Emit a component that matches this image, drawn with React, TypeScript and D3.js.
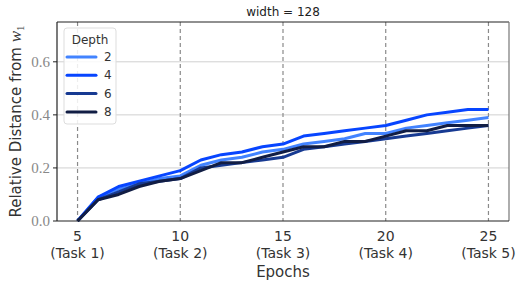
import * as d3 from "d3";

const WIDTH = 517;
const HEIGHT = 283;
const MARGIN = { top: 22, right: 8, bottom: 62, left: 57 };

const epochs = d3.range(5, 26);
const taskTicks = [5, 10, 15, 20, 25];
const taskLabels = ["(Task 1)", "(Task 2)", "(Task 3)", "(Task 4)", "(Task 5)"];
const yTicks = [0, 0.2, 0.4, 0.6];

const depths = ["2", "4", "6", "8"];
const colors = ["#4283ff", "#0745ff", "#173a92", "#111d44"];

const depth2 = [0, 0.09, 0.12, 0.14, 0.16, 0.17, 0.21, 0.23, 0.24, 0.26, 0.27, 0.29, 0.3, 0.31, 0.33, 0.33, 0.35, 0.36, 0.37, 0.38, 0.39];
const depth4 = [0, 0.09, 0.13, 0.15, 0.17, 0.19, 0.23, 0.25, 0.26, 0.28, 0.29, 0.32, 0.33, 0.34, 0.35, 0.36, 0.38, 0.4, 0.41, 0.42, 0.42];
const depth6 = [0, 0.08, 0.11, 0.14, 0.15, 0.16, 0.2, 0.21, 0.22, 0.23, 0.24, 0.27, 0.28, 0.29, 0.3, 0.31, 0.32, 0.33, 0.34, 0.35, 0.36];
const depth8 = [0, 0.08, 0.1, 0.13, 0.15, 0.16, 0.19, 0.22, 0.22, 0.24, 0.26, 0.28, 0.28, 0.3, 0.3, 0.32, 0.34, 0.34, 0.36, 0.36, 0.36];

const series = [depth2, depth4, depth6, depth8];

const SANS = "DejaVu Sans, sans-serif";
const SERIF = "Liberation Serif, serif";

export default function App() {
  const boundsWidth = WIDTH - MARGIN.left - MARGIN.right;
  const boundsHeight = HEIGHT - MARGIN.top - MARGIN.bottom;

  const xScale = d3.scaleLinear().domain([4, 26]).range([0, boundsWidth]);
  const yScale = d3.scaleLinear().domain([0, 0.75]).range([boundsHeight, 0]);

  const line = d3
    .line<number>()
    .x((_, i) => xScale(epochs[i]))
    .y((d) => yScale(d));

  return (
    <div style={{ position: "absolute", left: 0, top: 0 }}>
      <svg width={WIDTH} height={HEIGHT} style={{ display: "block" }}>
        <text
          x={MARGIN.left + boundsWidth / 2}
          y={16}
          textAnchor="middle"
          fontSize={12}
          fontFamily={SANS}
          fill="#222"
        >
          width = 128
        </text>
        <g transform={`translate(${MARGIN.left},${MARGIN.top})`}>
          {/* horizontal grid */}
          {yTicks.slice(1).map((t) => (
            <line
              key={"h" + t}
              x1={0}
              x2={boundsWidth}
              y1={yScale(t)}
              y2={yScale(t)}
              stroke="#d0d0d0"
              strokeWidth={1}
            />
          ))}
          {/* task boundaries */}
          {taskTicks.map((t) => (
            <line
              key={"v" + t}
              x1={xScale(t)}
              x2={xScale(t)}
              y1={0}
              y2={boundsHeight}
              stroke="#8a8a8a"
              strokeWidth={1.2}
              strokeDasharray="4,3"
            />
          ))}
          {series.map((s, i) => (
            <path
              key={depths[i]}
              d={line(s) || ""}
              fill="none"
              stroke={colors[i]}
              strokeWidth={3}
              strokeLinejoin="round"
            />
          ))}
          {/* spines */}
          <line x1={0} x2={boundsWidth} y1={0} y2={0} stroke="#222" strokeWidth={1.2} />
          <line x1={boundsWidth} x2={boundsWidth} y1={0} y2={boundsHeight} stroke="#777" strokeWidth={1.2} />
          <line x1={0} x2={0} y1={0} y2={boundsHeight} stroke="#222" strokeWidth={1.2} />
          <line x1={0} x2={boundsWidth} y1={boundsHeight} y2={boundsHeight} stroke="#222" strokeWidth={1.2} />

          {/* y ticks */}
          {yTicks.map((t) => (
            <g key={"yt" + t}>
              <line x1={-4} x2={0} y1={yScale(t)} y2={yScale(t)} stroke="#222" />
              <text
                x={-7}
                y={yScale(t)}
                textAnchor="end"
                dominantBaseline="central"
                fontSize={15}
                fontFamily={SERIF}
                fill="#888"
              >
                {t.toFixed(1)}
              </text>
            </g>
          ))}
          {/* x ticks */}
          {taskTicks.map((t, i) => (
            <g key={"xt" + t} transform={`translate(${xScale(t)},${boundsHeight})`}>
              <text y={20} textAnchor="middle" fontSize={14} fontFamily={SANS} fill="#333">
                {t}
              </text>
              <text y={37} textAnchor="middle" fontSize={14} fontFamily={SANS} fill="#333">
                {taskLabels[i]}
              </text>
            </g>
          ))}
          <text
            x={boundsWidth / 2}
            y={boundsHeight + 56}
            textAnchor="middle"
            fontSize={15}
            fontFamily={SANS}
            fill="#333"
          >
            Epochs
          </text>

          {/* legend */}
          <g transform="translate(7,6)">
            <rect x={0} y={0} width={52} height={96} rx={3} fill="white" fillOpacity={0.85} stroke="#ddd" />
            <text x={26} y={16} textAnchor="middle" fontSize={12} fontFamily={SANS} fill="#333">
              Depth
            </text>
            {depths.map((d, i) => (
              <g key={"lg" + d} transform={`translate(0,${29 + i * 18.3})`}>
                <line x1={3} x2={32} y1={0} y2={0} stroke={colors[i]} strokeWidth={3} strokeLinecap="round" />
                <text x={40} y={0} dominantBaseline="central" fontSize={12} fontFamily={SANS} fill="#333">
                  {d}
                </text>
              </g>
            ))}
          </g>
        </g>
        <text
          transform={`translate(21,${MARGIN.top + boundsHeight / 2}) rotate(-90)`}
          textAnchor="middle"
          fontSize={15}
          fontFamily={SANS}
          fill="#333"
        >
          Relative Distance from{" "}
          <tspan fontFamily={SERIF} fontStyle="italic" fontSize={17}>
            w
          </tspan>
          <tspan fontFamily={SERIF} fontSize={11} dy={3}>
            1
          </tspan>
        </text>
      </svg>
    </div>
  );
}
